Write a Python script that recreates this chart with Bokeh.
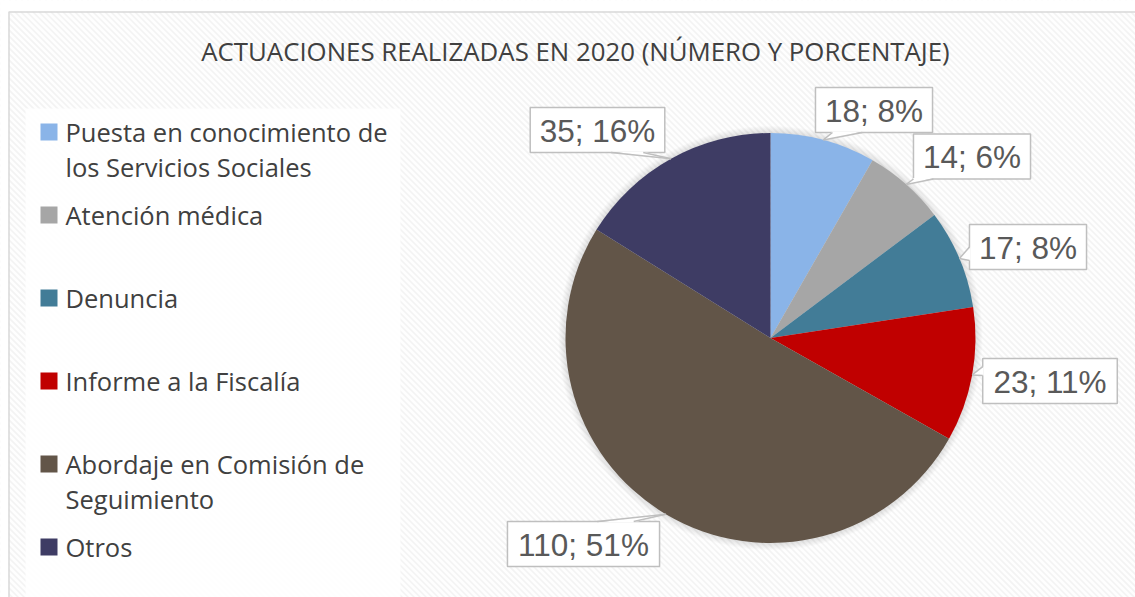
import math
from bokeh.plotting import figure
from bokeh.models import Range1d, ColumnDataSource
from bokeh.embed import file_html
from bokeh.resources import INLINE
from bokeh.core.properties import value

# ---------------- data ----------------
title = "ACTUACIONES REALIZADAS EN 2020 (NÚMERO Y PORCENTAJE)"
categories = ["Puesta en conocimiento de los Servicios Sociales", "Atención médica", "Denuncia",
              "Informe a la Fiscalía", "Abordaje en Comisión de Seguimiento", "Otros"]
legend_lines = [["Puesta en conocimiento de", "los Servicios Sociales"], ["Atención médica"], ["Denuncia"],
                ["Informe a la Fiscalía"], ["Abordaje en Comisión de", "Seguimiento"], ["Otros"]]
counts = [18, 14, 17, 23, 110, 35]
colors = ["#8AB4E8", "#A6A6A6", "#427C97", "#C00000", "#625548", "#3E3C64"]

# ---------------- layout ----------------
W, H = 1135, 597
def X(xi):
    return xi
def Y(yi):
    return H - yi

p = figure(width=W, height=H, x_range=Range1d(0, W), y_range=Range1d(0, H),
           x_axis_type=None, y_axis_type=None, toolbar_location=None,
           output_backend="svg", min_border=0, outline_line_color=None,
           background_fill_color="#fefefe", border_fill_color="white")
p.grid.visible = False

# faint diagonal stripes in the chart area
sx, sy = [], []
for c in range(-H, W + 6, 6):
    sx.append([c, c + H]); sy.append([H, 0])
p.multi_line(xs=sx, ys=sy, line_color="#f3f3f3", line_width=1.6)
# white outside the chart border
p.quad(left=[-5, -5], right=[X(8), W + 5], bottom=[-5, Y(11)], top=[H + 5, H + 5],
       fill_color="white", line_color=None)
# chart border
p.quad(left=X(8.5), right=W + 20, bottom=-20, top=Y(11.5), fill_color=None,
       line_color="#d9d9d9", line_width=1.5)
# legend background
p.quad(left=X(25), right=X(400), bottom=-20, top=Y(108), fill_color="white",
       fill_alpha=0.85, line_color=None)

# title
p.text(x=[X(575)], y=[Y(50.5)], text=[title], text_align="center", text_baseline="middle",
       text_font=value("Open Sans"), text_font_size="25.8px", text_color="#404040")

# pie
cx, cy, R = X(770), Y(337.5), 205
for k in range(1, 8):
    p.circle(x=[cx], y=[cy], radius=R + k, fill_color="black", fill_alpha=0.014, line_color=None)

total = sum(counts)
starts, ends, mids = [], [], []
cum = 0
for c in counts:
    a0 = math.pi / 2 - 2 * math.pi * cum / total
    a1 = math.pi / 2 - 2 * math.pi * (cum + c) / total
    starts.append(a0)
    ends.append(a1)
    mids.append((a0 + a1) / 2)
    cum += c
src = ColumnDataSource(dict(start=starts, end=ends, color=colors, cat=categories))
p.wedge(x=cx, y=cy, radius=R, start_angle="start", end_angle="end", direction="clock",
        fill_color="color", line_color=None, source=src)

# data labels (callouts)
labels = ["%d; %d%%" % (c, round(100 * c / total)) for c in counts]
box_centers = [(873.5, 109.5), (971.5, 156), (1027.5, 246.5), (1049.5, 380.5), (583, 543.5), (597, 129.5)]
tail_edges = ["bottom", "bottom", "left", "left", "top", "bottom"]
tail_fracs = [(0.145, 0.40), (0.0, 0.17), (0.5, 0.8), (0.18, 0.38), (0.59, 0.83), (0.6, 0.84)]
cw = {"0": .556, "1": .556, "2": .556, "3": .556, "4": .556, "5": .556, "6": .556, "7": .556,
      "8": .556, "9": .556, ";": .278, " ": .278, "%": .889}
FS = 31.5
BH = 45
bx, by, bw = [], [], []
tail_xs, tail_ys, side_xs, side_ys = [], [], [], []
for lab, (bxi, byi), edge, (f0, f1), m in zip(labels, box_centers, tail_edges, tail_fracs, mids):
    w = sum(cw[ch] for ch in lab) * FS + 19
    x0, y0 = X(bxi), Y(byi)
    bx.append(x0); by.append(y0); bw.append(w)
    ax, ay = cx + R * math.cos(m), cy + R * math.sin(m)
    left, right = x0 - w / 2, x0 + w / 2
    top, bottom = y0 + BH / 2, y0 - BH / 2
    if edge in ("bottom", "top"):
        ey = bottom + 1 if edge == "bottom" else top - 1
        ey_line = bottom if edge == "bottom" else top
        p0 = (left + f0 * w, ey); p1 = (left + f1 * w, ey)
        q0 = (left + f0 * w, ey_line); q1 = (left + f1 * w, ey_line)
    else:
        ex = left + 1
        p0 = (ex, top - f0 * BH); p1 = (ex, top - f1 * BH)
        q0 = (left, top - f0 * BH); q1 = (left, top - f1 * BH)
    tail_xs.append([p0[0], p1[0], ax]); tail_ys.append([p0[1], p1[1], ay])
    side_xs += [[q0[0], ax], [q1[0], ax]]; side_ys += [[q0[1], ay], [q1[1], ay]]

p.rect(x=bx, y=by, width=bw, height=BH, fill_color="white", fill_alpha=0.95,
       line_color="#bfbfbf", line_width=1.5)
p.patches(xs=tail_xs, ys=tail_ys, fill_color="white", line_color=None)
p.multi_line(xs=side_xs, ys=side_ys, line_color="#bfbfbf", line_width=1.5)
p.text(x=bx, y=[v - 0.5 for v in by], text=labels, text_align="center", text_baseline="middle",
       text_font=value("Liberation Sans"), text_font_size="%spx" % FS, text_color="#595959")

# legend
lx, ly, lt, sqx, sqy = [], [], [], [], []
for i, lines in enumerate(legend_lines):
    base = 140 + 83 * i
    sqx.append(X(48.5)); sqy.append(Y(base - 8.5))
    for j, line in enumerate(lines):
        lx.append(X(65)); ly.append(Y(base - 9 + 35 * j)); lt.append(line)
p.rect(x=sqx, y=sqy, width=17, height=17, fill_color=colors, line_color=None)
p.text(x=lx, y=ly, text=lt, text_align="left", text_baseline="middle",
       text_font=value("Open Sans"), text_font_size="25.5px", text_color="#404040")

open("out.html", "w").write(file_html(p, INLINE))
